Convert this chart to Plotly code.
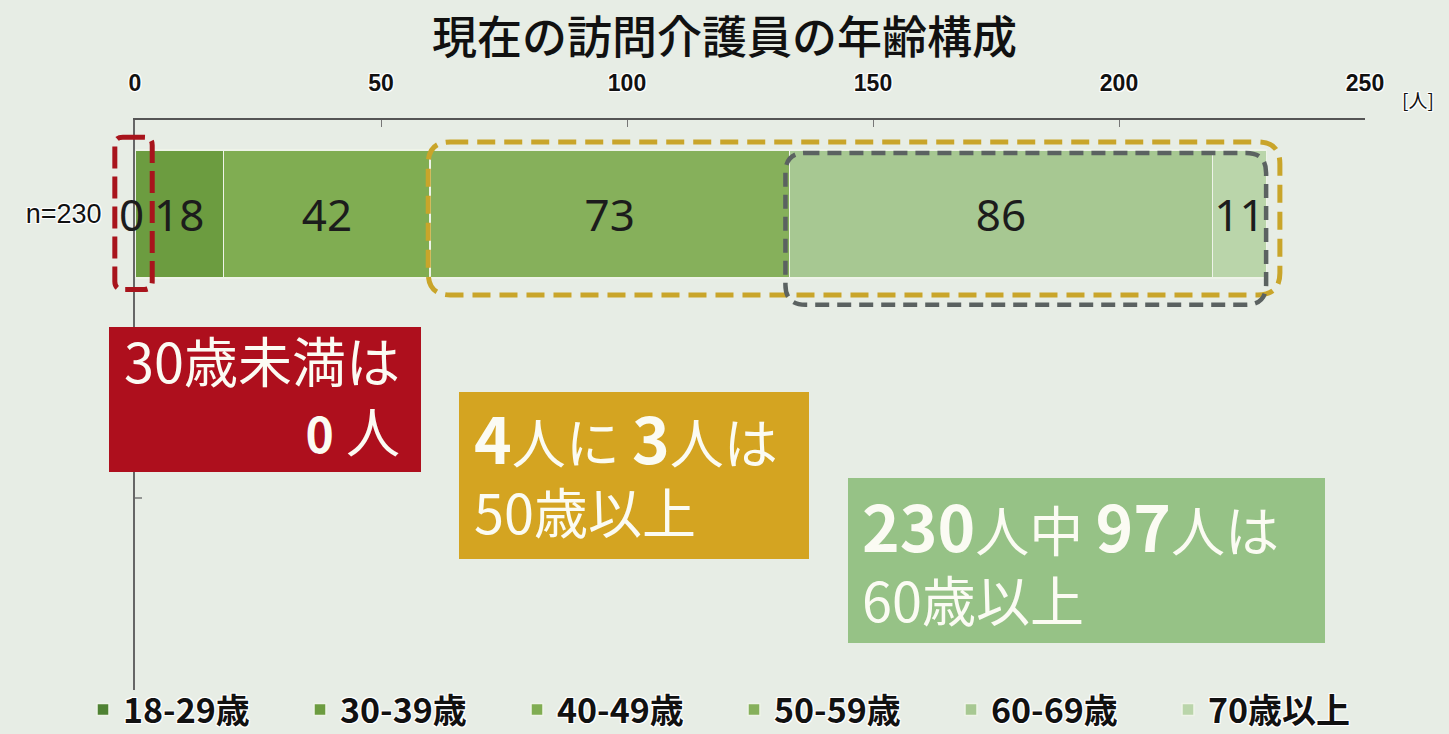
import plotly.graph_objects as go
import numpy as np

# ---- data ----
categories = ["18-29歳", "30-39歳", "40-49歳", "50-59歳", "60-69歳", "70歳以上"]
values = [0, 18, 42, 73, 86, 11]
bar_colors = ["#4f8233", "#6c9c40", "#80ad52", "#86b05b", "#a7c892", "#bad5aa"]
row_label = "n=230"
x_ticks = [0, 50, 100, 150, 200, 250]
title_text = "現在の訪問介護員の年齢構成"
unit_text = "[人]"

# ---- layout constants ----
W, H = 1449, 734
ML, MR, MT, MB = 135, 84, 120, 44
PW, PH = W - ML - MR, H - MT - MB
X_RANGE = [0, 250]
Y_RANGE = [-3.72, 0.734]
BG = "#e7ede5"
JP = "Noto Sans CJK JP"


def px_x(p):
    return (p - ML) / PW


def px_y(p):
    return (H - MB - p) / PH


def dx_to_paper(v):
    return (v - X_RANGE[0]) / (X_RANGE[1] - X_RANGE[0])


def dy_to_paper(v):
    return (v - Y_RANGE[0]) / (Y_RANGE[1] - Y_RANGE[0])


halo = "-1px -1px 0 #fff, 1px -1px 0 #fff, -1px 1px 0 #fff, 1px 1px 0 #fff, 0 0 3px #fff"

fig = go.Figure()
for cat, v, c in zip(categories, values, bar_colors):
    fig.add_trace(go.Bar(
        x=[v], y=[0], orientation="h", name=cat, width=1,
        marker=dict(color=c, line=dict(color="#eef3e8", width=1.5)),
        text=[str(v)] if v > 0 else None,
        textposition="inside", insidetextanchor="middle", textangle=0,
        constraintext="none",
        textfont=dict(family="Noto Sans, Open Sans", size=44, color="#1c1c1c"),
        hoverinfo="name+x",
    ))

cum = np.cumsum(values)
starts = cum - np.array(values)
total = cum[-1]

annotations = []
# zero-value labels
for s, v in zip(starts, values):
    if v == 0:
        annotations.append(dict(x=s, y=0, xref="x", yref="y", text=str(v), showarrow=False,
                                xshift=-4, font=dict(family="Noto Sans, Open Sans", size=44, color="#1c1c1c")))


def rounded(x0, x1, y0, y1, r):
    # data coords -> paper coords (so outlines are not clipped by the plot area)
    X0, X1 = dx_to_paper(x0), dx_to_paper(x1)
    Y0, Y1 = dy_to_paper(y0), dy_to_paper(y1)
    rx, ry = r / PW, r / PH
    return (f"M {X0+rx},{Y1} L {X1-rx},{Y1} Q {X1},{Y1} {X1},{Y1-ry} "
            f"L {X1},{Y0+ry} Q {X1},{Y0} {X1-rx},{Y0} L {X0+rx},{Y0} "
            f"Q {X0},{Y0} {X0},{Y0+ry} L {X0},{Y1-ry} Q {X0},{Y1} {X0+rx},{Y1} Z")


shapes = [
    # red dashed outline around under-30 group
    dict(type="path", xref="paper", yref="paper", layer="above",
         path=rounded(starts[0] - 4.1, starts[1] + 3.5, -0.59, 0.60, 8),
         line=dict(color="#a8141c", width=5, dash="22px,8px")),
    # gold dashed outline around 50+
    dict(type="path", xref="paper", yref="paper", layer="above",
         path=rounded(starts[3] - 0.4, total + 2.7, -0.633, 0.5625, 22),
         line=dict(color="#c9a52a", width=5, dash="18px,9px")),
    # gray dashed outline around 60+
    dict(type="path", xref="paper", yref="paper", layer="above",
         path=rounded(starts[4] - 0.8, total - 0.1, -0.71, 0.477, 20),
         line=dict(color="#5b6261", width=4.5, dash="14px,8px")),
    # small tick on the y axis
    dict(type="line", xref="paper", yref="paper", layer="above",
         x0=0, x1=px_x(142), y0=px_y(498), y1=px_y(498),
         line=dict(color="#777", width=1.5)),
    # callout boxes
    dict(type="rect", xref="paper", yref="paper", layer="above",
         x0=px_x(109), x1=px_x(421), y0=px_y(472), y1=px_y(327),
         fillcolor="#ae0f1d", line=dict(width=0)),
    dict(type="rect", xref="paper", yref="paper", layer="above",
         x0=px_x(459), x1=px_x(809), y0=px_y(559), y1=px_y(392),
         fillcolor="#d4a421", line=dict(width=0)),
    dict(type="rect", xref="paper", yref="paper", layer="above",
         x0=px_x(848), x1=px_x(1325), y0=px_y(643), y1=px_y(478),
         fillcolor="#96c286", line=dict(width=0)),
]

TXT = "#fbfbf3"


def box_text(x, y, text, anchor="left"):
    annotations.append(dict(x=px_x(x), y=px_y(y), xref="paper", yref="paper", text=text,
                            showarrow=False, xanchor=anchor, yanchor="middle", align=anchor,
                            font=dict(family=JP, size=54, color=TXT)))


big = lambda s, n=64: f"<span style='font-size:{n}px'><b>{s}</b></span>"

box_text(402, 394, f"30歳未満は<br>{big('0', 48)} 人", anchor="right")
box_text(472, 470, f"{big('4')}人に {big('3')}人は<br>50歳以上")
box_text(860, 558, f"{big('230')}人中 {big('97')}人は<br>60歳以上")

annotations.append(dict(x=px_x(1418), y=px_y(100), xref="paper", yref="paper", text=unit_text,
                        showarrow=False, xanchor="center", yanchor="middle",
                        font=dict(family=JP, size=19, color="#111", shadow=halo)))

fig.update_layout(
    width=W, height=H,
    margin=dict(l=ML, r=MR, t=MT, b=MB, pad=0, autoexpand=False),
    paper_bgcolor=BG, plot_bgcolor=BG,
    barmode="stack",
    title=dict(text=title_text, x=0.5, xref="container", xanchor="center",
               y=1 - 38 / H, yref="container", yanchor="middle",
               font=dict(family=JP, size=45, color="#111", weight=500)),
    xaxis=dict(side="top", range=X_RANGE, tickvals=x_ticks, showgrid=False, zeroline=False,
               showline=True, linecolor="#555", linewidth=1.5,
               ticks="inside", ticklen=7, tickcolor="#777", tickwidth=1,
               ticklabelstandoff=18,
               tickfont=dict(family="Liberation Sans, Arial", size=23, color="#111",
                             weight="bold", shadow=halo)),
    yaxis=dict(range=Y_RANGE, tickvals=[0], ticktext=[row_label], showgrid=False, zeroline=False,
               showline=True, linecolor="#666", linewidth=2, ticks="",
               ticklabelstandoff=26,
               tickfont=dict(family="Liberation Sans, Arial", size=27, color="#111", shadow=halo)),
    legend=dict(orientation="h", x=px_x(83), xanchor="left", y=px_y(710), yanchor="middle",
                entrywidth=172, entrywidthmode="pixels", traceorder="normal",
                bgcolor="rgba(0,0,0,0)",
                font=dict(family=JP, size=34, color="#111", weight="bold", shadow=halo)),
    shapes=shapes,
    annotations=annotations,
    showlegend=True,
)

fig.write_html("out.html", config={"displayModeBar": False},
               post_script="document.body.style.margin='0';")
